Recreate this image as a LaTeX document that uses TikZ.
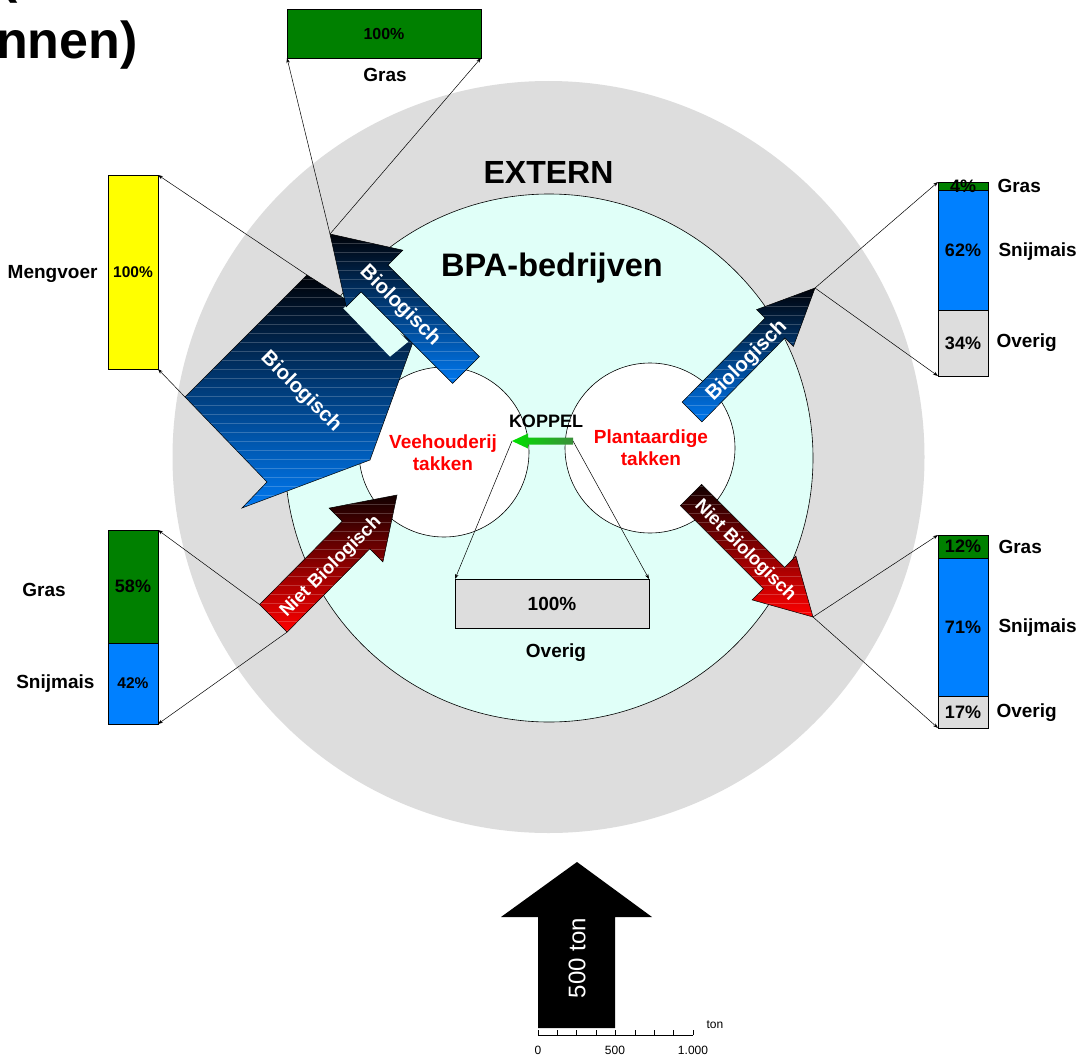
\documentclass[tikz,border=0pt]{standalone}
\usepackage{fontspec}
\setmainfont{Liberation Sans}
\usetikzlibrary{arrows.meta}
\definecolor{extgrey}{HTML}{DDDDDD}
\definecolor{bpacyan}{HTML}{E0FFF8}
\definecolor{grasgreen}{HTML}{008000}
\definecolor{maisblue}{HTML}{0080FF}
\definecolor{voeryellow}{HTML}{FFFF00}
\definecolor{takred}{HTML}{FF0000}
\definecolor{flowblue}{HTML}{0078F0}
\definecolor{flowdark}{HTML}{000208}
\definecolor{flowred}{HTML}{FF0000}
\definecolor{flowdarkred}{HTML}{120000}
\definecolor{koppelA}{HTML}{00E000}
\definecolor{koppelB}{HTML}{3A8F3A}

% block arrow: clipped vertical gradient with thin light stripes, then outline
\newcommand{\stripedblock}[3]{%
  \begin{scope}
    \clip #1 -- cycle;
    \shade[top color=#2,bottom color=#3] #1 -- cycle;
    \foreach \yy in {0,9,...,1057}
      \draw[white,opacity=0.2,line width=0.7pt] (0,\yy) -- (1087,\yy);
  \end{scope}
  \draw[line width=0.5pt] #1 -- cycle;
}

\begin{document}
\begin{tikzpicture}[x=1pt,y=-1pt,
  conn/.style={draw,line width=0.5pt,-{Stealth[length=5pt,width=3.5pt]}},
  bar/.style={draw,line width=0.6pt,inner sep=0pt,outer sep=0pt,minimum width=50pt,anchor=north west},
  pct/.style={font=\fontsize{18}{20}\selectfont\bfseries},
  pctsmall/.style={font=\fontsize{15.5}{17}\selectfont\bfseries},
  lbl/.style={font=\fontsize{19}{21}\selectfont\bfseries},
  arrowtxt/.style={text=white,font=\fontsize{20.5}{22}\selectfont\bfseries},
  nietxt/.style={text=white,font=\fontsize{18.5}{20}\selectfont\bfseries},
  taktxt/.style={text=takred,align=center,font=\fontsize{19}{22}\selectfont\bfseries},
  ring/.style={circle,inner sep=0pt,outer sep=0pt}]

\useasboundingbox (0,0) rectangle (1087,1057);
\clip (0,0) rectangle (1087,1057);
\fill[white] (0,0) rectangle (1087,1057);

% title fragment
\node[anchor=base west,inner sep=0pt,font=\fontsize{52}{60}\selectfont\bfseries] (titleA) at (0,-7) {(};
\node[anchor=base west,inner sep=0pt,font=\fontsize{52}{60}\selectfont\bfseries] (titleB) at (-4,59) {nnen)};

% circles
\node[ring,fill=extgrey,minimum size=752pt] (extern) at (548.5,457) {};
\node[ring,draw,line width=0.6pt,fill=bpacyan,minimum size=528pt] (bpa) at (549,458) {};
\node[ring,draw,line width=0.6pt,fill=white,minimum size=170pt] (vee) at (444,452) {};
\node[ring,draw,line width=0.6pt,fill=white,minimum size=170pt] (plant) at (650,448) {};

\node[font=\fontsize{32}{36}\selectfont\bfseries] (externlbl) at (548.5,172) {EXTERN};
\node[font=\fontsize{32.5}{36}\selectfont\bfseries] (bpalbl) at (552,268) {BPA-bedrijven};
\node[taktxt] (veelbl) at (443,453) {Veehouderij\\takken};
\node[taktxt] (plantlbl) at (651,448) {Plantaardige\\takken};

% big inflow arrow (Mengvoer)
\stripedblock{(307,275) -- (413,342) -- (370,460) -- (242,508) -- (267,482) -- (185,397)}{flowdark}{flowblue}
\fill[bpacyan] (361.7,293.3) -- (408.3,341.7) -- (390,356.7) -- (343.3,308.3) -- cycle;
\node[arrowtxt,rotate=-45] (biobig) at (301,392) {Biologisch};

% small inflow arrow (Gras)
\stripedblock{(330,234) -- (402.8,250.2) -- (387.9,265.1) -- (479.4,356.6) -- (452.6,383.4) -- (361.1,291.9) -- (346.2,306.8)}{flowdark}{flowblue}
\node[arrowtxt,rotate=-45] (biosmall) at (400,306) {Biologisch};

% outflow arrow, biological
\stripedblock{(815,288) -- (793.4,346.4) -- (784.9,337.9) -- (701.9,421.9) -- (682.1,402.1) -- (765.1,318.1) -- (756.6,309.6)}{flowdark}{flowblue}
\node[arrowtxt,rotate=45] (bioright) at (747,361) {Biologisch};

% inflow arrow, not biological
\stripedblock{(397,495) -- (382.9,561.9) -- (369.8,548.8) -- (287.1,632.1) -- (259.5,604.5) -- (342.2,521.2) -- (329.1,508.1)}{flowdarkred}{flowred}
\node[nietxt,rotate=45] (nietleft) at (331,567) {Niet Biologisch};

% outflow arrow, not biological
\stripedblock{(813,617) -- (752.1,599.9) -- (763.4,588.6) -- (680.4,505.6) -- (701.6,484.4) -- (784.6,567.4) -- (795.9,556.1)}{flowdarkred}{flowred}
\node[nietxt,rotate=-45] (nietright) at (745,551) {Niet Biologisch};

% arrow end points used by the connectors
\coordinate (bigA) at (307,275);
\coordinate (bigB) at (185,397);
\coordinate (tipSB) at (330,234);
\coordinate (tipRB) at (815,288);
\coordinate (tipRN) at (813,617);
\coordinate (tailLN1) at (259.5,604.5);
\coordinate (tailLN2) at (287.1,632.1);
\coordinate (kTip) at (512,441);
\coordinate (kTail) at (573,441);

% KOPPEL arrow
\shade[left color=koppelA,right color=koppelB]
  (kTip) -- (528,433.5) -- (528,437.5) -- (573,437.5) -- (573,444.5) -- (528,444.5) -- (528,448.5) -- cycle;
\node[font=\fontsize{18}{20}\selectfont\bfseries] (koppellbl) at (546,421) {KOPPEL};

% bars
\node[bar,fill=voeryellow,minimum height=194pt] (mv) at (108,175) {};
\node[pctsmall] (mvpct) at (mv.center) {100\%};
\node[lbl,anchor=east] (mvlbl) at (101,274) {Mengvoer};

\node[bar,fill=grasgreen,minimum height=113pt] (lg1) at (108,530) {};
\node[bar,fill=maisblue,minimum height=81pt] (lg2) at (108,643) {};
\node[pct] (lg1pct) at (lg1.center) {58\%};
\node[pctsmall] (lg2pct) at (lg2.center) {42\%};
\node[lbl] (lg1lbl) at (44,590) {Gras};
\node[lbl,anchor=east] (lg2lbl) at (98,684) {Snijmais};

\node[bar,fill=grasgreen,minimum width=194pt,minimum height=49pt] (tg) at (287,9) {};
\node[font=\fontsize{16}{18}\selectfont\bfseries] (tgpct) at (tg.center) {100\%};
\node[lbl] (tglbl) at (385,75) {Gras};

\node[bar,fill=grasgreen,minimum height=8pt] (rt1) at (938,182) {};
\node[bar,fill=maisblue,minimum height=120pt] (rt2) at (938,190) {};
\node[bar,fill=extgrey,minimum height=66pt] (rt3) at (938,310) {};
\node[pct] (rt1pct) at (963,186) {4\%};
\node[pct] (rt2pct) at (rt2.center) {62\%};
\node[pct] (rt3pct) at (rt3.center) {34\%};
\node[lbl,anchor=west] (rt1lbl) at (994,186) {Gras};
\node[lbl,anchor=west] (rt2lbl) at (995,252) {Snijmais};
\node[lbl,anchor=west] (rt3lbl) at (993,343) {Overig};

\node[bar,fill=grasgreen,minimum height=23pt] (rb1) at (938,535) {};
\node[bar,fill=maisblue,minimum height=138pt] (rb2) at (938,558) {};
\node[bar,fill=extgrey,minimum height=32pt] (rb3) at (938,696) {};
\node[pct] (rb1pct) at (rb1.center) {12\%};
\node[pct] (rb2pct) at (rb2.center) {71\%};
\node[pct] (rb3pct) at (rb3.center) {17\%};
\node[lbl,anchor=west] (rb1lbl) at (995,547) {Gras};
\node[lbl,anchor=west] (rb2lbl) at (995,628) {Snijmais};
\node[lbl,anchor=west] (rb3lbl) at (993,713) {Overig};

\node[bar,fill=extgrey,minimum width=194pt,minimum height=49pt] (ov) at (455,579) {};
\node[font=\fontsize{19}{21}\selectfont\bfseries] (ovpct) at (ov.center) {100\%};
\node[font=\fontsize{19}{21}\selectfont\bfseries] (ovlbl) at (556,653) {Overig};

% connectors
\draw[conn] (bigA) -- (mv.north east);
\draw[conn] (bigB) -- (mv.south east);
\draw[conn] (tipSB) -- (tg.south west);
\draw[conn] (tipSB) -- (tg.south east);
\draw[conn] (tailLN1) -- (lg1.north east);
\draw[conn] (tailLN2) -- (lg2.south east);
\draw[conn] (tipRB) -- (rt1.north west);
\draw[conn] (tipRB) -- (rt3.south west);
\draw[conn] (tipRN) -- (rb1.north west);
\draw[conn] (tipRN) -- (rb3.south west);
\draw[conn] (kTip) -- (ov.north west);
\draw[conn] (kTail) -- (ov.north east);

% scale arrow
\fill[black] (538,1028) -- (538,917) -- (501,917) -- (577,862) -- (652,917) -- (615,917) -- (615,1028) -- cycle;
\node[text=white,rotate=90,font=\fontsize{24}{26}\selectfont] (tonlbl) at (577,958) {500 ton};
\draw[line width=0.6pt] (538,1035) -- (693,1035);
\foreach \t in {0,...,8}
  \draw[line width=0.6pt] ({538+\t*19.375},1035) -- ++(0,-5);
\node[font=\fontsize{12}{14}\selectfont] (s0) at (538,1050) {0};
\node[font=\fontsize{12}{14}\selectfont] (s500) at (615,1050) {500};
\node[font=\fontsize{12}{14}\selectfont] (s1000) at (693,1050) {1.000};
\node[font=\fontsize{12}{14}\selectfont,anchor=west] (sunit) at (703,1025) {ton};

\end{tikzpicture}
\end{document}
